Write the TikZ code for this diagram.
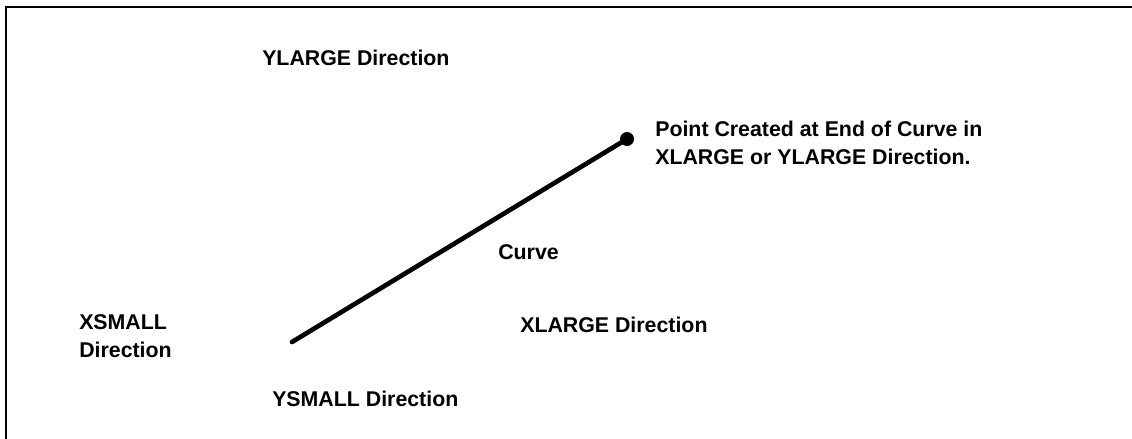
\documentclass[tikz,border=0pt]{standalone}
\usepackage{fontspec}
\setmainfont{Liberation Sans}
\usetikzlibrary{positioning,calc}
\tikzset{
  dirlabel/.style={anchor=base west, inner sep=0pt, align=left, font=\fontsize{16}{20.5}\selectfont\bfseries},
  curveline/.style={line width=3.5pt, line cap=round}
}
\begin{document}
\begin{tikzpicture}[x=0.75pt, y=-0.75pt]
        % Page area and partial frame
        \useasboundingbox (0,0) rectangle (1132,439);
        \coordinate (frametl) at (6,7);
        \draw[line width=1.5pt] (6,439) -- (frametl) -- (1132,7);
        % Curve with the created point at its end
        \coordinate (curvestart) at (292,342);
        \node[circle, fill=black, inner sep=0pt, minimum size=10.5pt] (endpt) at (627,139) {};
        \draw[curveline] (curvestart) -- (endpt.center);
        % Direction labels (multi-line ones sit on their last baseline)
        \node[dirlabel] (ylarge) at (262,65) {YLARGE Direction};
        \node[dirlabel] (point) at (655,164) {Point Created at End of Curve in\\XLARGE or YLARGE Direction.};
        \node[dirlabel] (curvelbl) at (498,259) {Curve};
        \node[dirlabel] (xsmall) at (79,357) {XSMALL\\Direction};
        \node[dirlabel] (xlarge) at (520,332) {XLARGE Direction};
        \node[dirlabel] (ysmall) at (272,406) {YSMALL Direction};
    \end{tikzpicture}
\end{document}
